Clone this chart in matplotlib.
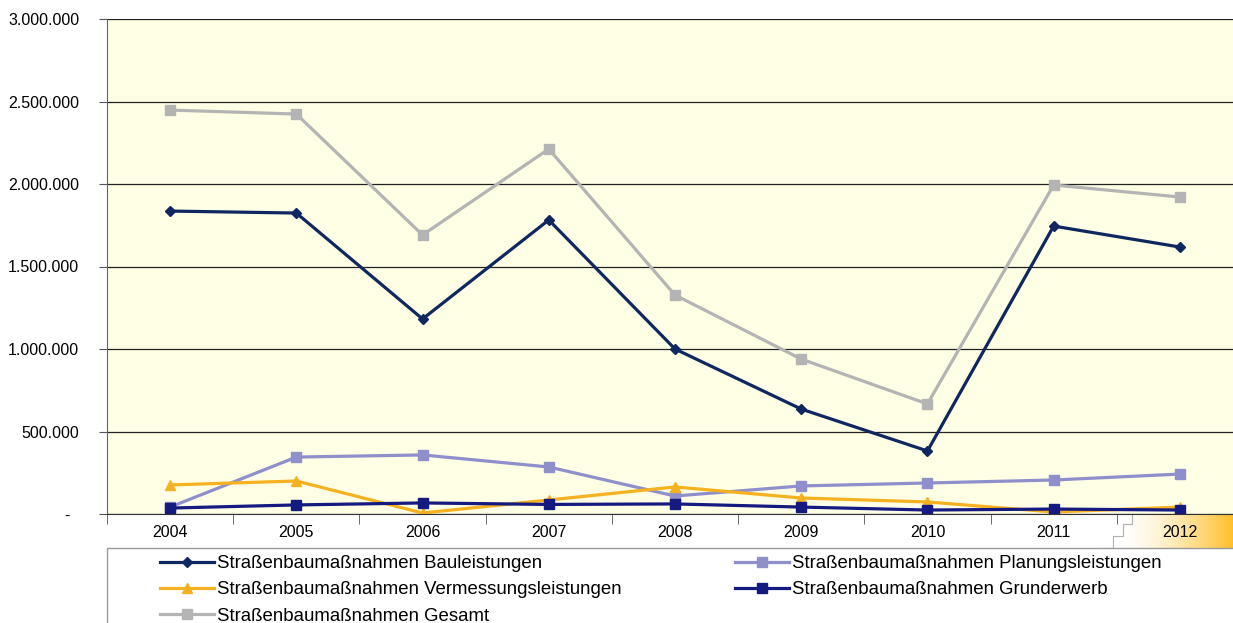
import matplotlib.pyplot as plt
import numpy as np
from matplotlib.patches import Rectangle
from matplotlib.ticker import FuncFormatter, FixedLocator

plt.rcParams['font.family'] = ['Liberation Sans', 'DejaVu Sans']

years = ['2004', '2005', '2006', '2007', '2008', '2009', '2010', '2011', '2012']
bau = [1836000, 1824000, 1182000, 1782000, 1000000, 636000, 382000, 1745000, 1618000]
planung = [42000, 345000, 358000, 285000, 109000, 170000, 188000, 206000, 242000]
vermessung = [176000, 200000, 6000, 85000, 164000, 97000, 73000, 12000, 42000]
grunderwerb = [36000, 55000, 67000, 58000, 61000, 42000, 24000, 30000, 24000]
gesamt = [2448000, 2424000, 1691000, 2212000, 1327000, 939000, 667000, 1994000, 1921000]

W, H = 1233, 623
fig = plt.figure(figsize=(W / 100, H / 100), dpi=100)
fig.patch.set_facecolor('white')

# decorative gradient in the lower right corner
deco = fig.add_axes([1100 / W, 1 - 548 / H, 133 / W, 34 / H])
grad = np.clip((np.linspace(0, 1, 200)[None, :] - 0.15) / 0.85, 0, 1) ** 1.5
deco.imshow(np.dstack([np.ones_like(grad), 1 - 0.25 * grad, 1 - 0.85 * grad]),
            aspect='auto', extent=[0, 1, 0, 1])
xs = [0.02, 0.1, 0.1, 0.17, 0.17, 0.24, 0.24]
ys = [0, 0, 0.35, 0.35, 0.7, 0.7, 1.0]
deco.plot(xs, ys, color='#b0b0b0', lw=0.8)
deco.set_xlim(0, 1)
deco.set_ylim(0, 1)
deco.axis('off')

ax = fig.add_axes([107 / W, 1 - 514 / H, 1136 / W, 495 / H])
ax.set_facecolor('#ffffe6')
x = np.arange(len(years))

ax.plot(x, bau, color='#0f2760', lw=2.3, marker='D', ms=5,
        label='Straßenbaumaßnahmen Bauleistungen')
ax.plot(x, planung, color='#8e8fcb', lw=2.3, marker='s', ms=7,
        label='Straßenbaumaßnahmen Planungsleistungen')
ax.plot(x, vermessung, color='#f5b120', lw=2.3, marker='^', ms=7,
        label='Straßenbaumaßnahmen Vermessungsleistungen')
ax.plot(x, grunderwerb, color='#141a80', lw=2.3, marker='s', ms=7,
        label='Straßenbaumaßnahmen Grunderwerb')
ax.plot(x, gesamt, color='#b4b4b4', lw=2.3, marker='s', ms=7,
        label='Straßenbaumaßnahmen Gesamt')

ax.set_xlim(-0.5, len(years) - 0.5)
ax.set_ylim(0, 3000000)
ax.set_yticks(np.arange(0, 3000001, 500000))
ax.yaxis.set_major_formatter(FuncFormatter(
    lambda v, p: '-  ' if v == 0 else f'{int(v):,}'.replace(',', '.')))
ax.grid(axis='y', color='#202020', lw=0.9)
ax.set_axisbelow(True)

ax.set_xticks(x)
ax.set_xticklabels(years)
ax.xaxis.set_minor_locator(FixedLocator(np.arange(-0.5, len(years), 1.0)))
ax.tick_params(axis='x', which='major', length=0, labelsize=11.5, pad=8)
ax.tick_params(axis='x', which='minor', length=7, color='#555555')
ax.tick_params(axis='y', length=6, color='#555555', labelsize=11.5, pad=14)

for s in ['top', 'right']:
    ax.spines[s].set_visible(False)
ax.spines['left'].set_color('#666666')
ax.spines['bottom'].set_color('#333333')

# legend box
fig.patches.append(Rectangle((107 / W, -0.01), 1.0, 1 - 548 / H + 0.01,
                             transform=fig.transFigure, fill=False,
                             edgecolor='#999999', lw=1.0))
handles, labels = ax.get_legend_handles_labels()
order = [0, 2, 4, 1, 3]
fig.legend([handles[i] for i in order], [labels[i] for i in order],
           loc='upper left', bbox_to_anchor=(160 / W, 1 - 555 / H),
           ncol=2, frameon=False, fontsize=13.4, borderaxespad=0, borderpad=0,
           handlelength=2.9, handletextpad=0.15, columnspacing=6.1,
           labelspacing=0.5)

fig.savefig('out.png', dpi=100)
